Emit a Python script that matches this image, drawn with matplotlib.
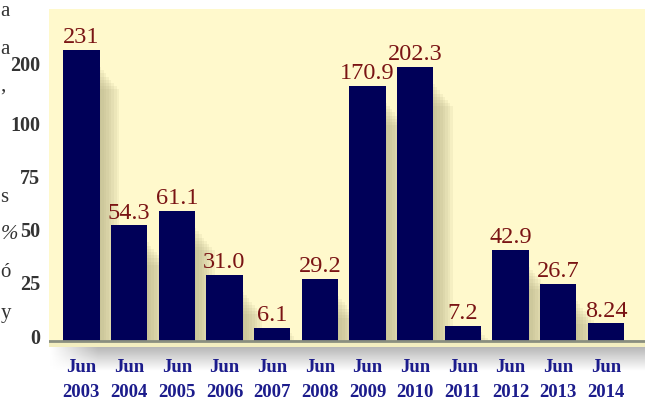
import numpy as np
import matplotlib
matplotlib.use('Agg')
import matplotlib.pyplot as plt
from matplotlib.patches import Rectangle
from matplotlib.transforms import ScaledTranslation

# ==========================================================================
#  Dati
periods = ['Jun\n2003', 'Jun\n2004', 'Jun\n2005', 'Jun\n2006', 'Jun\n2007', 'Jun\n2008',
           'Jun\n2009', 'Jun\n2010', 'Jun\n2011', 'Jun\n2012', 'Jun\n2013', 'Jun\n2014']
values = [231, 54.3, 61.1, 31.0, 6.1, 29.2, 170.9, 202.3, 7.2, 42.9, 26.7, 8.24]
value_labels = ['231', '54.3', '61.1', '31.0', '6.1', '29.2',
                '170.9', '202.3', '7.2', '42.9', '26.7', '8.24']
yticks = [0, 25, 50, 75, 100, 200]
# frammenti di testo sul bordo sinistro
side_chars = ['a', 'a', ',', 's', '%', 'ó', 'y']

# ==========================================================================
#  Stile
bar_col = '#000058'
lab_col = '#7a1414'
tick_col = '#333333'
xlab_col = '#1c1c8c'
panel_col = '#fff9cc'
serif = ['Liberation Serif', 'DejaVu Serif']

# scala spezzata: lineare fino a 100, compressa sopra
s = 0.28
def fwd(y):
    y = np.asarray(y, dtype=float)
    return np.where(y <= 100, y, 100 + (y - 100) * s)
def inv(u):
    u = np.asarray(u, dtype=float)
    return np.where(u <= 100, u, 100 + (u - 100) / s)

W, H = 645, 402
fig = plt.figure(figsize=(W / 100, H / 100), dpi=100)
fig.patch.set_facecolor('white')

# ombra sotto il pannello
sh = fig.add_axes([49 / W, (H - 372) / H, (W - 49) / W, 24 / H])
grad = np.linspace(0.72, 1.0, 50)[:, None] * np.ones((1, 200))
edge = np.clip(np.linspace(0, 1, 200) / 0.08, 0, 1)
grad = 1 - (1 - grad) * edge[None, :]
sh.imshow(grad, cmap='gray', vmin=0, vmax=1, aspect='auto', interpolation='bilinear')
sh.axis('off')

ax = fig.add_axes([49 / W, (H - 348) / H, (W - 49) / W, 338 / H])
ax.set_facecolor(panel_col)
ax.set_yscale('function', functions=(fwd, inv))

x = np.arange(len(values))
bw = 0.76

# ombre delle barre
for i, v in enumerate(values):
    top = fwd(v) - 8
    if top <= 0:
        top = fwd(v) * 0.6
    for k in range(8):
        w = 0.05 + 0.055 * k
        ax.add_patch(Rectangle((x[i] + bw / 2 - 0.02, 0), w, inv(max(top - 1.5 * k, 0.5)),
                               facecolor='#b0ac80', edgecolor='none', alpha=0.12, zorder=1))

ax.bar(x, values, width=bw, color=bar_col, zorder=3)
ax.axhline(0, color='#8a8f80', lw=2, zorder=4)
ax.axhspan(-3, 0, color='#f3eec0', zorder=0)

for xi, v, lab in zip(x, values, value_labels):
    ax.annotate(lab, (xi, v), xytext=(0, 2), textcoords='offset points',
                ha='center', va='bottom', fontsize=17.5, color=lab_col,
                family=serif, zorder=5)

ax.set_xlim(-0.68, 11.82)
ax.set_ylim(-2.8, inv(155.9))

ax.set_xticks(x)
ax.set_xticklabels(periods, fontsize=13.5, fontweight='bold', color=xlab_col,
                   family=serif, linespacing=1.6)
ax.set_yticks(yticks)
ax.set_yticklabels([str(t) for t in yticks], fontsize=14.5, fontweight='bold',
                   color=tick_col, family=serif)
ax.tick_params(axis='x', length=0, pad=8)
ax.tick_params(axis='y', length=0, pad=6.5)
off = ScaledTranslation(0, 6 / 100, fig.dpi_scale_trans)
for t in ax.get_yticklabels():
    t.set_transform(t.get_transform() + off)
ax.yaxis.set_minor_locator(matplotlib.ticker.NullLocator())
for sp in ax.spines.values():
    sp.set_visible(False)

# testo sul bordo sinistro
ys = [12, 50, 86, 197, 235, 273, 314]
for ch, yy in zip(side_chars, ys):
    fig.text(0.5 / W, 1 - yy / H, ch, ha='left', va='center', fontsize=15,
             color='#333333', family=serif,
             style='italic' if ch == '%' else 'normal')

fig.savefig('out.png', dpi=100)
